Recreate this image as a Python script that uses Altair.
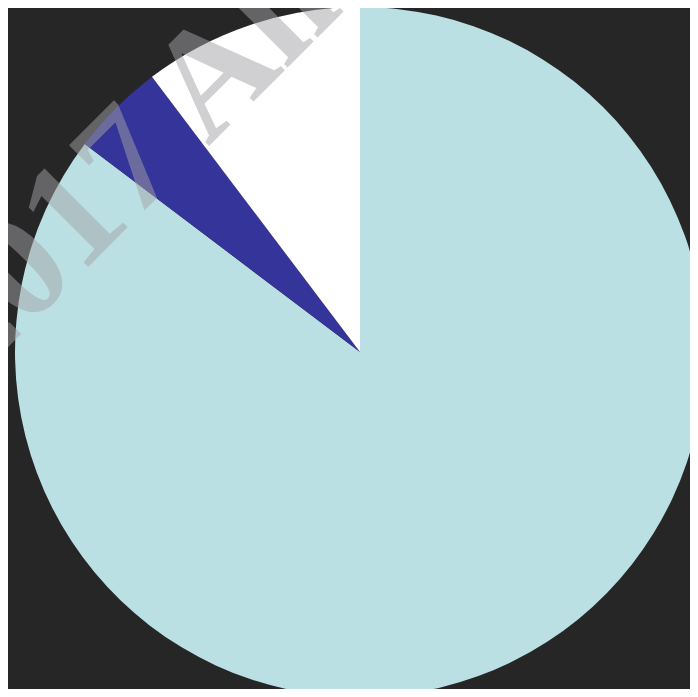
import altair as alt
import pandas as pd

categories = ["Segment A", "Segment B", "Segment C"]
values = [85.3, 4.4, 10.3]
colors = ["#bae0e3", "#34349a", "#ffffff"]
watermark = ["2017 All Rights Reserved"]

df = pd.DataFrame({"category": categories, "value": values, "idx": list(range(len(categories)))})
wm = pd.DataFrame({"text": watermark})

W, H = 682, 681

pie = alt.Chart(df).mark_arc(radius=345, stroke=None).encode(
    theta=alt.Theta("value:Q", stack=True),
    order=alt.Order("idx:Q"),
    color=alt.Color("category:N", scale=alt.Scale(domain=categories, range=colors), legend=None),
    x=alt.value(352),
    y=alt.value(344),
)

text = alt.Chart(wm).mark_text(
    font="Liberation Serif", fontWeight="bold", fontSize=152, angle=315,
    align="left", baseline="alphabetic", color="#a3a3a6", opacity=0.5,
).encode(
    text="text:N",
    x=alt.value(-36),
    y=alt.value(375),
)

chart = alt.layer(pie, text).properties(
    width=W, height=H, autosize=alt.AutoSizeParams(type="none"), padding=0,
    background="#262626",
).configure_view(stroke=None)

chart.save("out.html", embed_options={"renderer": "svg", "actions": False})
